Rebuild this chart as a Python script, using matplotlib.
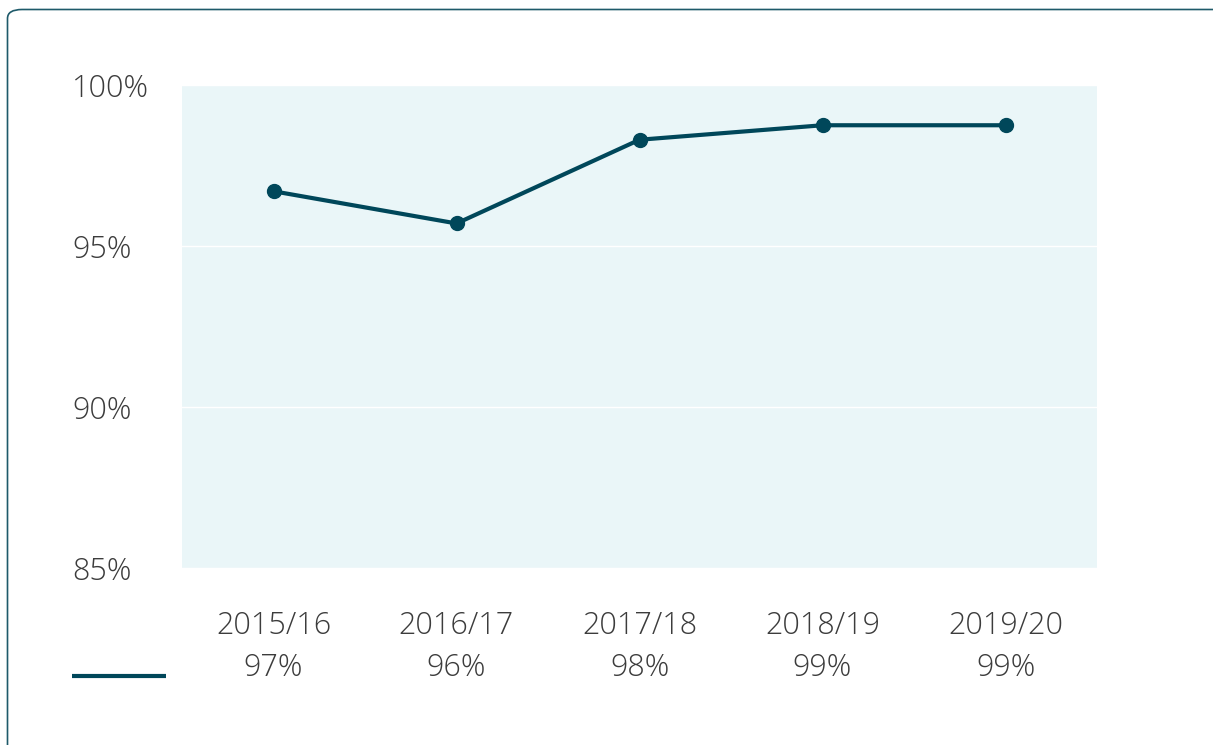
import matplotlib
matplotlib.use("Agg")
import matplotlib.pyplot as plt
from matplotlib.patches import FancyBboxPatch
from matplotlib.lines import Line2D

years = ["2015/16", "2016/17", "2017/18", "2018/19", "2019/20"]
values = [96.7, 95.7, 98.3, 98.75, 98.75]
value_labels = ["97%", "96%", "98%", "99%", "99%"]
y_ticks = [85, 90, 95, 100]
y_tick_labels = ["85%", "90%", "95%", "100%"]

W, H = 1213, 745
fig = plt.figure(figsize=(W / 100, H / 100), dpi=100)
plt.rcParams['font.family'] = ['Open Sans', 'DejaVu Sans']

line_color = "#00475A"
text_color = "#3C3C3C"

ax = fig.add_axes([182 / W, 1 - 568 / H, (1097 - 182) / W, (568 - 85) / H])
ax.set_facecolor("#EAF6F8")
x = list(range(len(years)))
ax.plot(x, values, color=line_color, linewidth=3, marker="o", markersize=10, zorder=3)
ax.set_xlim(-0.5, len(years) - 0.5)
ax.set_ylim(85, 100)
ax.set_yticks(y_ticks)
ax.set_yticklabels(y_tick_labels, fontsize=22, color=text_color, fontweight="light")
for lbl in ax.get_yticklabels():
    lbl.set_horizontalalignment("left")
ax.set_xticks(x)
ax.set_xticklabels([f"{y}\n{v}" for y, v in zip(years, value_labels)],
                   fontsize=22, color=text_color, linespacing=1.45, fontweight="light")
ax.tick_params(axis="both", length=0)
ax.tick_params(axis="y", pad=(182 - 72) * 0.72)
ax.tick_params(axis="x", pad=30)
ax.grid(axis="y", color="white", linewidth=1)
ax.set_axisbelow(True)
for s in ax.spines.values():
    s.set_visible(False)

# legend line
fig.add_artist(Line2D([72 / W, 166 / W], [1 - 676 / H, 1 - 676 / H],
                      color=line_color, linewidth=3, solid_capstyle="butt"))

# border
border = FancyBboxPatch((7.5 / W, -0.05), 1.1, 1 - 9.5 / H + 0.05,
                        boxstyle="round,pad=0,rounding_size=0.012",
                        transform=fig.transFigure, fill=False,
                        edgecolor="#1E5A6A", linewidth=1.2, clip_on=False)
fig.add_artist(border)

fig.savefig("out.png", dpi=100)
